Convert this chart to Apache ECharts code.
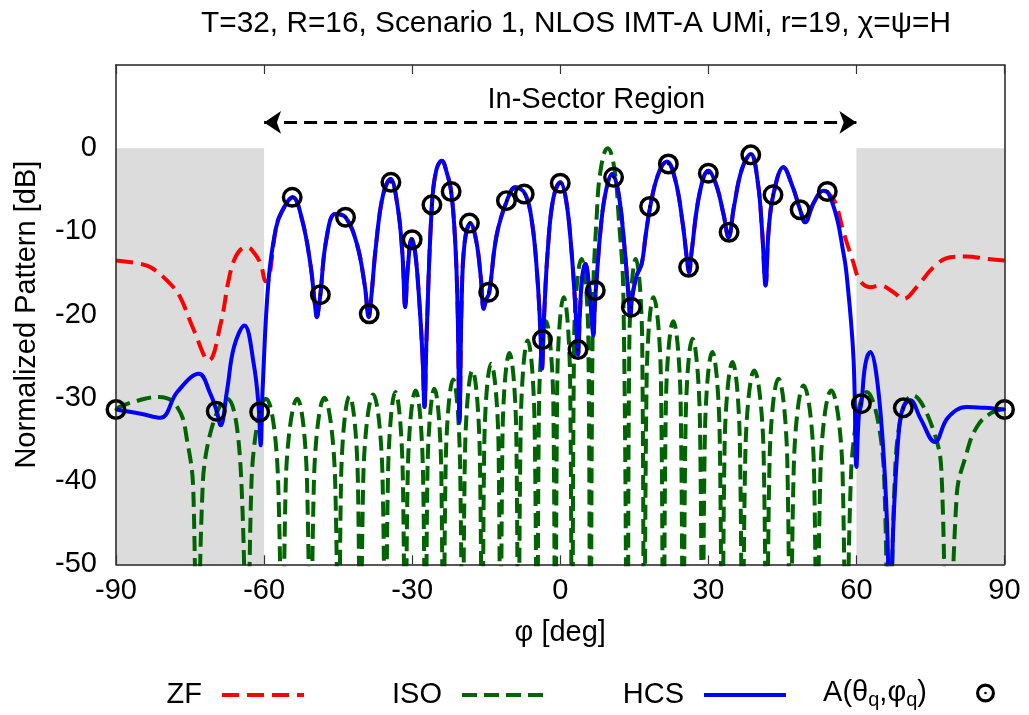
<!DOCTYPE html>
<html>
<head>
<meta charset="utf-8">
<script src="https://cdn.jsdelivr.net/npm/echarts/dist/echarts.min.js"></script>
<style>
  html, body { margin: 0; padding: 0; background: #ffffff; }
  #chart { width: 1029px; height: 715px; }
</style>
</head>
<body>
<div id="chart"></div>
<script>
// Beam patterns vs. azimuth phi [deg], normalized gain [dB]

// HCS pattern (solid blue)
const hcs = [
  [-90,-31.4],[-85,-31.9],[-81,-32.4],[-77.6,-29.3],[-73.2,-27.1],[-70.9,-29.5],[-69.6,-31.6],[-68.8,-33.3],
  [-67.5,-29.1],[-66.1,-23.9],[-64.0,-21.3],[-62.1,-25.9],[-61.1,-31.1],[-60.7,-35.7],[-60.3,-29],
  [-59.1,-15.9],[-57.6,-9.6],[-56.4,-7.6],[-54.2,-5.9],[-52.3,-8.6],[-50.6,-14],[-49.7,-18.8],[-49.3,-20.3],
  [-48.9,-19],[-48.6,-17.6],[-47.4,-11],[-45.6,-7.9],[-43.5,-8.3],[-41.2,-11.5],[-39.6,-16.5],[-38.8,-20.3],
  [-38.3,-18],[-37.3,-11.5],[-35.9,-5.6],[-34.4,-3.7],[-33.0,-6.8],[-32.0,-12.5],[-31.4,-19.1],[-30.9,-14.5],
  [-30.1,-10.9],[-29.4,-12.5],[-28.6,-18],[-27.9,-25],[-27.5,-31.1],[-27.1,-23],[-26.0,-6.8],[-25.1,-2.6],
  [-24.0,-1.5],[-23.0,-2.9],[-22.1,-5.2],[-21.3,-11],[-20.8,-19],[-20.4,-32.9],[-20.0,-19],[-19.4,-11.5],
  [-18.2,-9.0],[-17.0,-11.2],[-16.1,-15.5],[-15.5,-19.3],[-15.0,-18.2],[-14.4,-17.4],[-12.9,-10.5],
  [-10.8,-6.3],[-9.1,-4.7],[-7.1,-5.5],[-5.7,-9],[-4.7,-15],[-4.1,-21],[-3.7,-26.5],[-3.3,-20.5],
  [-2.5,-12],[-1.4,-6],[0,-4.1],[1.2,-6.3],[2.3,-12.5],[3.1,-19.5],[3.6,-24.8],[4.0,-19.5],[4.5,-15.2],
  [5.1,-13.9],[5.7,-15.8],[6.3,-19.8],[6.7,-22.5],[7.0,-19],[7.2,-17.1],[8.3,-9],[9.3,-5],[10.5,-3.1],
  [11.8,-5.4],[13.0,-11.8],[13.8,-17.5],[14.2,-20.1],[14.6,-17.8],[15.5,-15.3],[16.5,-13.9],[17.3,-10.5],
  [18.2,-7.1],[19.8,-3.2],[21.6,-1.6],[23.3,-3.8],[24.8,-9],[25.7,-13.5],[26.1,-14.9],[26.6,-12.5],
  [28.2,-5.5],[30.0,-2.7],[31.6,-4.4],[33.1,-8],[34.1,-10.7],[35.2,-7],[36.8,-2.5],[38.6,-0.7],[40.0,-4],
  [40.9,-10],[41.6,-16.5],[42.2,-10],[43.2,-5.5],[45.2,-2.3],[47.0,-4.5],[48.6,-7.4],[49.6,-8.9],
  [51.4,-6.5],[53.3,-5.1],[54.3,-5.4],[56.0,-8.3],[57.2,-12],[58.0,-15.1],[59.4,-25.1],[60.0,-38.3],
  [60.5,-32],[61.0,-30.7],[61.8,-26],[62.8,-24.5],[64.0,-27],[65.3,-35],[66.2,-45],[66.8,-58],[67.5,-45],
  [68.6,-34],[69.5,-31.1],[70.9,-30.3],[73.0,-32.5],[75.9,-35.3],[78.5,-32.4],[82.3,-31.1],[86,-31.2],[90,-31.4]
];

// ZF pattern outside the sector (inside the sector it runs along the HCS curve)
const zfLeft = [
  [-90,-13.5],[-86,-13.8],[-83,-14.3],[-79,-16.3],[-77,-17.9],[-74.2,-21.9],[-71.2,-25.5],[-68.8,-21.1],
  [-67.2,-15.9],[-66.1,-13.5],[-64.8,-12.2],[-63.4,-11.9],[-62,-12.6],[-60.7,-13.9],[-59.6,-16.0]
];
const zfRight = [
  [55.7,-6.5],[57.5,-10.3],[59.3,-13.6],[60.7,-15.9],[62.8,-16.7],[64.8,-16.5],[67.5,-17.3],[69.5,-18.1],
  [72.2,-16.7],[75.6,-14.3],[79,-13.1],[82.3,-13.0],[86.4,-13.3],[90,-13.5]
];

// ISO pattern (dashed green): lobes between nulls
const iso = [
  [-90,-31.3],[-86.6,-30.5],[-81.3,-29.9],[-77.6,-31.1],[-75.6,-35.1],[-74.3,-41.9],[-73.6,-75],
  [-72.4,-40.1],[-67.5,-30.1],[-64.6,-40.1],[-63.4,-75],
  [-62.55,-40.1],[-59.6,-30.1],[-57.15,-40.1],[-56.3,-75],
  [-55.6,-40.1],[-53.3,-30.1],[-51.3,-40.1],[-50.6,-75],
  [-49.9,-40],[-47.8,-30],[-45.6,-40],[-44.9,-75],
  [-44.4,-39.8],[-42.7,-29.8],[-41.0,-39.8],[-40.5,-75],
  [-39.9,-39.6],[-37.9,-29.6],[-36.0,-39.6],[-35.4,-75],
  [-34.9,-39.3],[-33.4,-29.3],[-31.9,-39.3],[-31.4,-75],
  [-30.9,-39.1],[-29.3,-29.1],[-27.8,-39.1],[-27.3,-75],
  [-26.9,-38.9],[-25.5,-28.9],[-24.1,-38.9],[-23.7,-75],
  [-23.2,-37.8],[-21.7,-27.8],[-20.3,-37.8],[-19.8,-75],
  [-19.3,-36.7],[-17.8,-26.7],[-16.3,-36.7],[-15.8,-75],
  [-15.4,-35.9],[-14.0,-25.9],[-12.5,-35.9],[-12.1,-75],
  [-11.7,-34.6],[-10.3,-24.6],[-8.9,-34.6],[-8.5,-75],
  [-8.0,-33.1],[-6.6,-23.1],[-5.2,-33.1],[-4.7,-75],
  [-4.3,-30.8],[-2.9,-20.8],[-1.4,-30.8],[-1.0,-75],
  [-0.6,-27.9],[0.7,-17.9],[2.0,-27.9],[2.4,-75],
  [2.8,-23.3],[4.3,-13.3],[5.7,-23.3],[6.1,-75],
  [6.6,-20],[7.4,-8],[8.3,-2.2],[9.6,0],[10.9,-2.2],[11.8,-8],[12.8,-18],[13.6,-75],
  [14.0,-23.3],[15.3,-13.3],[16.6,-23.3],[17.0,-75],
  [17.5,-27.9],[18.9,-17.9],[20.4,-27.9],[20.9,-75],
  [21.4,-30.8],[22.9,-20.8],[24.4,-30.8],[24.9,-75],
  [25.4,-32.9],[26.8,-22.9],[28.3,-32.9],[28.8,-75],
  [29.3,-34.5],[30.8,-24.5],[32.3,-34.5],[32.8,-75],
  [33.3,-35.7],[34.9,-25.7],[36.4,-35.7],[36.9,-75],
  [37.5,-36.7],[39.3,-26.7],[41.2,-36.7],[41.8,-75],
  [42.4,-37.7],[44.2,-27.7],[46.0,-37.7],[46.6,-75],
  [47.3,-38.5],[49.3,-28.5],[51.4,-38.5],[52.0,-75],
  [52.7,-39.1],[54.9,-29.1],[57.2,-39.1],[57.9,-75],
  [58.9,-39.3],[62.1,-29.3],[65.6,-39.3],[66.6,-75],
  [67.9,-38],[71.5,-29.7],[75.6,-33.9],[77.3,-39.9],[78.4,-75],
  [80.3,-41.9],[82.3,-36.7],[84.4,-33.5],[87.1,-31.9],[90,-31.3]
];

// Sampled directions A(theta_q, phi_q)
const samples = [
  [-90,-31.4],[-69.7,-31.6],[-60.9,-31.7],[-54.3,-5.9],[-48.6,-17.6],[-43.5,-8.3],[-38.7,-19.9],
  [-34.3,-4.1],[-30.0,-11.0],[-26.0,-6.8],[-22.1,-5.2],[-18.4,-9.0],[-14.5,-17.3],[-10.9,-6.3],
  [-7.3,-5.5],[-3.6,-23.0],[0,-4.2],[3.6,-24.2],[7.1,-17.1],[10.8,-3.5],[14.4,-19.1],[18.1,-7.0],
  [21.9,-1.9],[26.0,-14.3],[30.0,-3.0],[34.2,-10.1],[38.6,-0.8],[43.1,-5.6],[48.6,-7.4],[54.1,-5.2],
  [61.0,-30.7],[69.5,-31.2],[90,-31.4]
];

// Out-of-sector spans [deg] and the in-sector arrow
const outOfSector = [[-90, -60], [60, 90]];
const sectorEdges = [-60, 60];
const sectorArrowLevel = 3.1;
const sectorLabelAt = [7.3, 5.85];

const FONT = '"Liberation Sans", Arial, Helvetica, sans-serif';
const zfData = zfLeft
  .concat(hcs.filter(p => p[0] > -59.5 && p[0] < 55))
  .concat(zfRight);

// ring with center dot
const ringDot = 'path://M0,-10A10,10,0,1,1,0,10A10,10,0,1,1,0,-10Z' +
  'M0,-6.7A6.7,6.7,0,1,0,0,6.7A6.7,6.7,0,1,0,0,-6.7Z' +
  'M0,-1.4A1.4,1.4,0,1,1,0,1.4A1.4,1.4,0,1,1,0,-1.4Z';

const chart = echarts.init(document.getElementById('chart'), null, { renderer: 'canvas' });

const legendBase = {
  orient: 'horizontal', align: 'right', padding: 0, top: 678,
  itemWidth: 82, itemHeight: 14,
  itemStyle: { color: 'transparent', borderColor: 'transparent', borderWidth: 0 },
  lineStyle: { width: 4, color: 'inherit', type: 'inherit' },
  textStyle: { fontFamily: FONT, fontSize: 29, color: '#000', lineHeight: 34, padding: [0, 15, 0, 0] },
  selectedMode: false
};

chart.setOption({
  animation: false,
  backgroundColor: '#ffffff',
  title: {
    text: 'T=32, R=16, Scenario 1, NLOS IMT-A UMi, r=19, χ=ψ=H',
    left: 571, top: 4, textAlign: 'center',
    textStyle: { fontFamily: FONT, fontSize: 29.8, fontWeight: 'normal', color: '#000' }
  },
  grid: { left: 116, right: 24.5, top: 65, bottom: 150.7, outerBoundsMode: 'none', containLabel: false },
  legend: [
    Object.assign({}, legendBase, { data: ['ZF'], right: 723 }),
    Object.assign({}, legendBase, { data: ['ISO'], right: 483 }),
    Object.assign({}, legendBase, { data: ['HCS'], right: 241 }),
    {
      orient: 'horizontal', align: 'right', padding: 0, top: 676, selectedMode: false,
      data: ['A(θq,φq)'], right: 34, itemWidth: 19, itemHeight: 19,
      formatter: () => 'A(θ{s|q},φ{s|q})',
      textStyle: {
        fontFamily: FONT, fontSize: 29, color: '#000', lineHeight: 34, padding: [0, 44, 0, 0],
        rich: { s: { fontFamily: FONT, fontSize: 20, color: '#000', padding: [14, 0, 0, 0] } }
      }
    }
  ],
  xAxis: [
    {
      type: 'value', min: -90, max: 90, interval: 30, position: 'bottom', z: 6,
      name: 'φ [deg]', nameLocation: 'middle', nameGap: 54,
      nameTextStyle: { fontFamily: FONT, fontSize: 29, color: '#000' },
      axisLine: { show: true, onZero: false, lineStyle: { color: '#222', width: 1.5 } },
      axisTick: { show: true, inside: true, length: 9, lineStyle: { color: '#333', width: 1.2 } },
      axisLabel: { fontFamily: FONT, fontSize: 29, color: '#000', margin: 12 },
      splitLine: { show: false }
    },
    {
      type: 'value', min: -90, max: 90, interval: 30, position: 'top', z: 6,
      axisLine: { show: true, onZero: false, lineStyle: { color: '#222', width: 1.5 } },
      axisTick: { show: true, inside: true, length: 9, lineStyle: { color: '#333', width: 1.2 } },
      axisLabel: { show: false },
      splitLine: { show: false }
    }
  ],
  yAxis: [
    {
      type: 'value', min: -50, max: 10, interval: 10, position: 'left', z: 6,
      name: 'Normalized Pattern [dB]', nameLocation: 'middle', nameGap: 75, nameRotate: 90,
      nameTextStyle: { fontFamily: FONT, fontSize: 29, color: '#000' },
      axisLine: { show: true, onZero: false, lineStyle: { color: '#222', width: 1.5 } },
      axisTick: { show: false },
      axisLabel: { fontFamily: FONT, fontSize: 29, color: '#000', margin: 19,
        formatter: v => (v > 0 ? '' : String(v)) },
      splitLine: { show: false }
    },
    {
      type: 'value', min: -50, max: 10, interval: 10, position: 'right', z: 6,
      axisLine: { show: true, onZero: false, lineStyle: { color: '#222', width: 1.5 } },
      axisTick: { show: false }, axisLabel: { show: false }, splitLine: { show: false }
    }
  ],
  series: [
    {
      name: 'sector', type: 'line', data: [], z: 1, silent: true,
      markArea: {
        silent: true,
        itemStyle: { color: '#dcdcdc' },
        data: outOfSector.map(s => [{ xAxis: s[0], yAxis: -50 }, { xAxis: s[1], yAxis: 0 }])
      },
      markLine: {
        silent: true,
        symbol: ['arrow', 'arrow'], symbolSize: 17,
        label: { show: false },
        lineStyle: { color: '#000', width: 3, type: [13, 7] },
        data: [[{ coord: [sectorEdges[0], sectorArrowLevel] }, { coord: [sectorEdges[1], sectorArrowLevel] }]]
      },
      markPoint: {
        silent: true, symbol: 'circle', symbolSize: 0,
        label: { show: true, position: 'inside', formatter: 'In-Sector Region',
          fontFamily: FONT, fontSize: 29, color: '#000' },
        data: [{ coord: sectorLabelAt }]
      }
    },
    {
      name: 'ZF', type: 'line', data: zfData, z: 2, smooth: 0.4, symbol: 'none', clip: true,
      lineStyle: { color: '#ff0000', width: 4, type: [17, 8] }, itemStyle: { color: '#ff0000' }
    },
    {
      name: 'ISO', type: 'line', data: iso, z: 3, smooth: 0.45, symbol: 'none', clip: true,
      lineStyle: { color: '#006400', width: 4, type: [15, 7] }, itemStyle: { color: '#006400' }
    },
    {
      name: 'HCS', type: 'line', data: hcs, z: 4, smooth: 0.4, symbol: 'none', clip: true,
      lineStyle: { color: '#0000ff', width: 4 }, itemStyle: { color: '#0000ff' }
    },
    {
      name: 'A(θq,φq)', type: 'scatter', data: samples, z: 5, clip: false,
      symbol: ringDot, symbolSize: 21, symbolKeepAspect: true,
      itemStyle: { color: '#000', opacity: 1 }
    }
  ]
});
</script>
</body>
</html>
